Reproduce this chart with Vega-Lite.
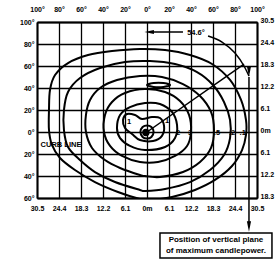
{
  "$schema": "https://vega.github.io/schema/vega-lite/v6.json",
  "width": 220,
  "height": 176,
  "autosize": "none",
  "padding": {"left": 37, "top": 22, "right": 18, "bottom": 65},
  "background": "white",
  "config": {
    "view": {"stroke": null},
    "axis": {
      "labelFont": "Liberation Sans",
      "labelFontSize": 7,
      "labelFontWeight": "bold",
      "labelColor": "black",
      "domainColor": "black",
      "domainWidth": 2,
      "gridColor": "black",
      "gridWidth": 1.3,
      "gridOpacity": 1,
      "ticks": false,
      "title": null,
      "labelFlush": false,
      "labelOverlap": false
    },
    "text": {"font": "Liberation Sans", "fontWeight": "bold", "fontSize": 7.5, "color": "black"}
  },
  "datasets": {
    "contours": [
      {"c": "a", "i": 0, "x": -6.4, "y": -60.9}, {"c": "a", "i": 1, "x": -26.4, "y": -54.5}, {"c": "a", "i": 2, "x": -47.3, "y": -45.5}, {"c": "a", "i": 3, "x": -65.5, "y": -34.5}, {"c": "a", "i": 4, "x": -79.1, "y": -23.6}, {"c": "a", "i": 5, "x": -86.4, "y": -11.8}, {"c": "a", "i": 6, "x": -89.1, "y": 1.8}, {"c": "a", "i": 7, "x": -89.1, "y": 20}, {"c": "a", "i": 8, "x": -88.2, "y": 38.2}, {"c": "a", "i": 9, "x": -83.6, "y": 51.8}, {"c": "a", "i": 10, "x": -71.8, "y": 62.7}, {"c": "a", "i": 11, "x": -53.6, "y": 70}, {"c": "a", "i": 12, "x": -31.8, "y": 73.6}, {"c": "a", "i": 13, "x": -6.4, "y": 75.5}, {"c": "a", "i": 14, "x": 16.4, "y": 74.5}, {"c": "a", "i": 15, "x": 39.1, "y": 70}, {"c": "a", "i": 16, "x": 59.1, "y": 61.8}, {"c": "a", "i": 17, "x": 75.5, "y": 47.3}, {"c": "a", "i": 18, "x": 85.5, "y": 29.1}, {"c": "a", "i": 19, "x": 90, "y": 10.9}, {"c": "a", "i": 20, "x": 90, "y": -2.7}, {"c": "a", "i": 21, "x": 86.4, "y": -16.4}, {"c": "a", "i": 22, "x": 77.3, "y": -30.9}, {"c": "a", "i": 23, "x": 61.8, "y": -43.6}, {"c": "a", "i": 24, "x": 43.6, "y": -52.7}, {"c": "a", "i": 25, "x": 22.7, "y": -59.1}, {"c": "a", "i": 26, "x": 2.7, "y": -61.8},
      {"c": "b", "i": 0, "x": -6.4, "y": -52.7}, {"c": "b", "i": 1, "x": -29.1, "y": -45.5}, {"c": "b", "i": 2, "x": -47.3, "y": -36.4}, {"c": "b", "i": 3, "x": -60.9, "y": -25.5}, {"c": "b", "i": 4, "x": -71.8, "y": -13.6}, {"c": "b", "i": 5, "x": -75.5, "y": 1.8}, {"c": "b", "i": 6, "x": -75.5, "y": 20}, {"c": "b", "i": 7, "x": -71.8, "y": 36.4}, {"c": "b", "i": 8, "x": -60.9, "y": 49.1}, {"c": "b", "i": 9, "x": -42.7, "y": 58.2}, {"c": "b", "i": 10, "x": -20, "y": 63.6}, {"c": "b", "i": 11, "x": 2.7, "y": 64.5}, {"c": "b", "i": 12, "x": 25.5, "y": 61.8}, {"c": "b", "i": 13, "x": 45.5, "y": 54.5}, {"c": "b", "i": 14, "x": 60, "y": 42.7}, {"c": "b", "i": 15, "x": 70, "y": 27.3}, {"c": "b", "i": 16, "x": 75.5, "y": 10.9}, {"c": "b", "i": 17, "x": 75.5, "y": -5.5}, {"c": "b", "i": 18, "x": 70, "y": -20.9}, {"c": "b", "i": 19, "x": 57.3, "y": -34.5}, {"c": "b", "i": 20, "x": 39.1, "y": -45.5}, {"c": "b", "i": 21, "x": 16.4, "y": -51.8}, {"c": "b", "i": 22, "x": -1.8, "y": -53.6},
      {"c": "c", "i": 0, "x": -6.4, "y": -39.1}, {"c": "c", "i": 1, "x": -24.5, "y": -32.7}, {"c": "c", "i": 2, "x": -38.2, "y": -25.5}, {"c": "c", "i": 3, "x": -50, "y": -14.5}, {"c": "c", "i": 4, "x": -55.5, "y": 0}, {"c": "c", "i": 5, "x": -55.5, "y": 15.5}, {"c": "c", "i": 6, "x": -51.8, "y": 29.1}, {"c": "c", "i": 7, "x": -42.7, "y": 40}, {"c": "c", "i": 8, "x": -27.3, "y": 47.3}, {"c": "c", "i": 9, "x": -6.4, "y": 50.9}, {"c": "c", "i": 10, "x": 13.6, "y": 50}, {"c": "c", "i": 11, "x": 32.7, "y": 43.6}, {"c": "c", "i": 12, "x": 48.2, "y": 32.7}, {"c": "c", "i": 13, "x": 58.2, "y": 18.2}, {"c": "c", "i": 14, "x": 60.9, "y": 1.8}, {"c": "c", "i": 15, "x": 58.2, "y": -14.5}, {"c": "c", "i": 16, "x": 48.2, "y": -27.3}, {"c": "c", "i": 17, "x": 32.7, "y": -36.4}, {"c": "c", "i": 18, "x": 11.8, "y": -40.9}, {"c": "c", "i": 19, "x": -1.8, "y": -40},
      {"c": "d", "i": 0, "x": -6.4, "y": -27.3}, {"c": "d", "i": 1, "x": -22.7, "y": -21.8}, {"c": "d", "i": 2, "x": -33.6, "y": -12.7}, {"c": "d", "i": 3, "x": -39.1, "y": 0}, {"c": "d", "i": 4, "x": -38.2, "y": 15.5}, {"c": "d", "i": 5, "x": -31.8, "y": 27.3}, {"c": "d", "i": 6, "x": -20, "y": 35.5}, {"c": "d", "i": 7, "x": -1.8, "y": 39.1}, {"c": "d", "i": 8, "x": 16.4, "y": 36.4}, {"c": "d", "i": 9, "x": 30, "y": 28.2}, {"c": "d", "i": 10, "x": 38.2, "y": 15.5}, {"c": "d", "i": 11, "x": 40, "y": 0}, {"c": "d", "i": 12, "x": 36.4, "y": -12.7}, {"c": "d", "i": 13, "x": 25.5, "y": -21.8}, {"c": "d", "i": 14, "x": 10, "y": -27.3},
      {"c": "e", "i": 0, "x": -1.8, "y": -16.4}, {"c": "e", "i": 1, "x": -15.5, "y": -12.7}, {"c": "e", "i": 2, "x": -24.5, "y": -5.5}, {"c": "e", "i": 3, "x": -27.3, "y": 3.6}, {"c": "e", "i": 4, "x": -24.5, "y": 15.5}, {"c": "e", "i": 5, "x": -15.5, "y": 22.7}, {"c": "e", "i": 6, "x": -1.8, "y": 26.4}, {"c": "e", "i": 7, "x": 11.8, "y": 25.5}, {"c": "e", "i": 8, "x": 22.7, "y": 18.2}, {"c": "e", "i": 9, "x": 27.3, "y": 6.4}, {"c": "e", "i": 10, "x": 25.5, "y": -5.5}, {"c": "e", "i": 11, "x": 16.4, "y": -13.6},
      {"c": "f", "i": 0, "x": -6.4, "y": -7.3}, {"c": "f", "i": 1, "x": -13.6, "y": -1.8}, {"c": "f", "i": 2, "x": -20, "y": 3.6}, {"c": "f", "i": 3, "x": -21.8, "y": 10.9}, {"c": "f", "i": 4, "x": -18.2, "y": 16.4}, {"c": "f", "i": 5, "x": -10.9, "y": 15.5}, {"c": "f", "i": 6, "x": -4.5, "y": 11.8}, {"c": "f", "i": 7, "x": 4.5, "y": 13.6}, {"c": "f", "i": 8, "x": 11.8, "y": 12.7}, {"c": "f", "i": 9, "x": 15.5, "y": 5.5}, {"c": "f", "i": 10, "x": 13.6, "y": -3.6}, {"c": "f", "i": 11, "x": 5.5, "y": -8.2},
      {"c": "g", "i": 0, "x": -6, "y": 0}, {"c": "g", "i": 1, "x": -4, "y": 4.5}, {"c": "g", "i": 2, "x": 0, "y": 6}, {"c": "g", "i": 3, "x": 4, "y": 4.5}, {"c": "g", "i": 4, "x": 6, "y": 0}, {"c": "g", "i": 5, "x": 4, "y": -4.5}, {"c": "g", "i": 6, "x": 0, "y": -6}, {"c": "g", "i": 7, "x": -4, "y": -4.5},
      {"c": "h", "i": 0, "x": 0, "y": 42.7}, {"c": "h", "i": 1, "x": 6, "y": 44.5}, {"c": "h", "i": 2, "x": 15, "y": 44.5}, {"c": "h", "i": 3, "x": 21, "y": 42.7}, {"c": "h", "i": 4, "x": 15, "y": 41}, {"c": "h", "i": 5, "x": 6, "y": 41}
    ],
    "guides": [
      {"g": "arcL", "i": 0, "x": 2.7, "y": 90.9}, {"g": "arcL", "i": 1, "x": 32.7, "y": 90.9},
      {"g": "arcR", "i": 0, "x": 55.5, "y": 87.3}, {"g": "arcR", "i": 1, "x": 68.2, "y": 81.8}, {"g": "arcR", "i": 2, "x": 80, "y": 71.8}, {"g": "arcR", "i": 3, "x": 88.2, "y": 60}, {"g": "arcR", "i": 4, "x": 92.7, "y": 50.9},
      {"g": "diag", "i": 0, "x": 0, "y": 0}, {"g": "diag", "i": 1, "x": 88.2, "y": 61.8},
      {"g": "vert", "i": 0, "x": 92.7, "y": 50}, {"g": "vert", "i": 1, "x": 92.7, "y": -86}
    ],
    "headsDown": [{"x": 92.7, "y": 55}, {"x": 92.7, "y": -86}],
    "headsLeft": [{"x": 2, "y": 90.9}],
    "spot": [{"x": -1, "y": -0.5}],
    "box": [{"x1": 11.8, "x2": 113.6, "y1": -91.8, "y2": -114.5}],
    "labels": [
      {"t": "1", "x": -16.4, "y": 9.5},
      {"t": "1", "x": 18.2, "y": 10},
      {"t": "2", "x": 28.2, "y": -0.9},
      {"t": "3", "x": 39.1, "y": -0.9},
      {"t": ".5", "x": 63.6, "y": -0.9},
      {"t": ".2", "x": 77.3, "y": -0.9},
      {"t": ".1", "x": 87, "y": -0.9},
      {"t": "CURB LINE", "x": -78.2, "y": -11.8},
      {"t": "54.6°", "x": 44.5, "y": 90}
    ],
    "boxText": [
      {"t": "Position of vertical plane", "x": 62.7, "y": -98.6},
      {"t": "of maximum candlepower.", "x": 62.7, "y": -108.2}
    ]
  },
  "resolve": {"axis": {"x": "independent", "y": "independent"}},
  "layer": [
    {
      "data": {"name": "contours"},
      "mark": {"type": "line", "interpolate": "cardinal-closed", "stroke": "black", "strokeWidth": 2, "clip": true},
      "encoding": {
        "x": {"field": "x", "type": "quantitative", "scale": {"domain": [-100, 100], "nice": false, "zero": false},
          "axis": {"orient": "top", "values": [-100, -80, -60, -40, -20, 0, 20, 40, 60, 80, 100], "labelExpr": "abs(datum.value) + '°'", "grid": true, "labelPadding": 10}},
        "y": {"field": "y", "type": "quantitative", "scale": {"domain": [-60, 100], "nice": false, "zero": false},
          "axis": {"orient": "left", "values": [-60, -40, -20, 0, 20, 40, 60, 80, 100], "labelExpr": "abs(datum.value) + '°'", "grid": true, "labelPadding": 3}},
        "detail": {"field": "c", "type": "nominal"},
        "order": {"field": "i", "type": "quantitative"}
      }
    },
    {
      "data": {"name": "guides"},
      "mark": {"type": "line", "interpolate": "monotone", "stroke": "black", "strokeWidth": 1.5, "clip": false},
      "encoding": {
        "x": {"field": "x", "type": "quantitative", "scale": {"domain": [-100, 100], "nice": false, "zero": false},
          "axis": {"orient": "bottom", "values": [-100, -80, -60, -40, -20, 0, 20, 40, 60, 80, 100], "labelExpr": "datum.value == 0 ? '0m' : format(abs(datum.value) * 0.305, '.1f')", "grid": false, "labelPadding": 6}},
        "y": {"field": "y", "type": "quantitative", "scale": {"domain": [-60, 100], "nice": false, "zero": false},
          "axis": {"orient": "right", "values": [-60, -40, -20, 0, 20, 40, 60, 80, 100], "labelExpr": "datum.value == 0 ? '0m' : format(abs(datum.value) * 0.305, '.1f')", "grid": false, "labelPadding": 3, "labelOffset": -2}},
        "detail": {"field": "g", "type": "nominal"},
        "order": {"field": "i", "type": "quantitative"}
      }
    },
    {
      "data": {"name": "headsDown"},
      "mark": {"type": "point", "shape": "M-0.4,-1L0.4,-1L0,1Z", "filled": true, "color": "black", "opacity": 1, "size": 110, "clip": false},
      "encoding": {
        "x": {"field": "x", "type": "quantitative", "scale": {"domain": [-100, 100], "nice": false, "zero": false}, "axis": null},
        "y": {"field": "y", "type": "quantitative", "scale": {"domain": [-60, 100], "nice": false, "zero": false}, "axis": null}
      }
    },
    {
      "data": {"name": "headsLeft"},
      "mark": {"type": "point", "shape": "M1,-0.4L1,0.4L-1,0Z", "filled": true, "color": "black", "opacity": 1, "size": 90, "clip": false},
      "encoding": {
        "x": {"field": "x", "type": "quantitative", "scale": {"domain": [-100, 100], "nice": false, "zero": false}, "axis": null},
        "y": {"field": "y", "type": "quantitative", "scale": {"domain": [-60, 100], "nice": false, "zero": false}, "axis": null}
      }
    },
    {
      "data": {"name": "spot"},
      "mark": {"type": "point", "shape": "circle", "filled": true, "color": "black", "opacity": 1, "size": 55},
      "encoding": {
        "x": {"field": "x", "type": "quantitative", "scale": {"domain": [-100, 100], "nice": false, "zero": false}, "axis": null},
        "y": {"field": "y", "type": "quantitative", "scale": {"domain": [-60, 100], "nice": false, "zero": false}, "axis": null}
      }
    },
    {
      "data": {"name": "box"},
      "mark": {"type": "rect", "fill": "white", "stroke": "black", "strokeWidth": 1.5, "clip": false},
      "encoding": {
        "x": {"field": "x1", "type": "quantitative", "scale": {"domain": [-100, 100], "nice": false, "zero": false}, "axis": null},
        "x2": {"field": "x2"},
        "y": {"field": "y1", "type": "quantitative", "scale": {"domain": [-60, 100], "nice": false, "zero": false}, "axis": null},
        "y2": {"field": "y2"}
      }
    },
    {
      "data": {"name": "labels"},
      "mark": {"type": "text", "align": "center", "baseline": "middle", "clip": false},
      "encoding": {
        "x": {"field": "x", "type": "quantitative", "scale": {"domain": [-100, 100], "nice": false, "zero": false}, "axis": null},
        "y": {"field": "y", "type": "quantitative", "scale": {"domain": [-60, 100], "nice": false, "zero": false}, "axis": null},
        "text": {"field": "t"}
      }
    },
    {
      "data": {"name": "boxText"},
      "mark": {"type": "text", "align": "center", "baseline": "middle", "fontSize": 8, "clip": false},
      "encoding": {
        "x": {"field": "x", "type": "quantitative", "scale": {"domain": [-100, 100], "nice": false, "zero": false}, "axis": null},
        "y": {"field": "y", "type": "quantitative", "scale": {"domain": [-60, 100], "nice": false, "zero": false}, "axis": null},
        "text": {"field": "t"}
      }
    }
  ]
}
